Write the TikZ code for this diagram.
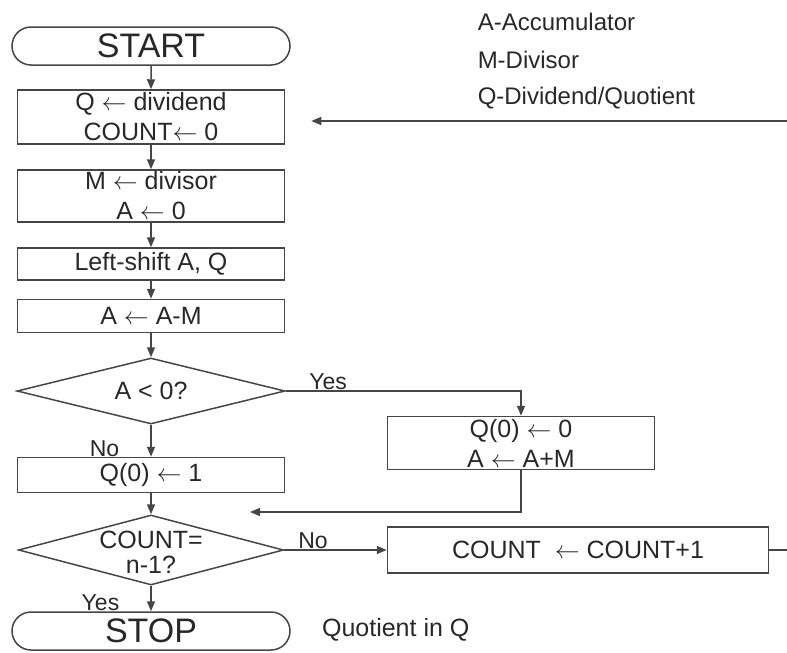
\documentclass[tikz,border=0pt]{standalone}
\usepackage{fontspec}
\setmainfont{Liberation Sans}
\usepackage{tikz}
\usetikzlibrary{shapes.geometric, shapes.misc, arrows, arrows.meta}
\usepackage{xcolor}

\definecolor{edgegray}{RGB}{70,70,70}
\definecolor{inkgray}{RGB}{40,40,40}
\newcommand{\larr}{$\leftarrow$}

\tikzset{
  boxtext/.style={font=\fontsize{25}{30}\selectfont, text=inkgray},
  terminal/.style={rounded rectangle, draw, minimum width=278pt, minimum height=38pt, inner sep=0pt, font=\fontsize{34}{34}\selectfont, text=inkgray},
  process/.style={rectangle, draw, minimum width=267pt, inner sep=0pt, align=center, boxtext},
  decision/.style={diamond, draw, aspect=4, inner sep=0pt, minimum width=268pt, minimum height=66pt, boxtext},
  flowlabel/.style={font=\fontsize{23}{23}\selectfont, text=inkgray, inner sep=1pt},
  legend/.style={anchor=west, inner sep=0pt, font=\fontsize{24}{24}\selectfont, text=inkgray}
}

\begin{document}
\begin{tikzpicture}[->,>={Triangle[length=10pt,width=8pt]},line width=1.5pt,edgegray,x=1pt,y=1pt,node distance=70pt]
  \useasboundingbox (0,0) rectangle (787,-653);

  % main column
  \node[terminal] (start) at (151,-46) {START};
  \node[process, minimum height=54pt] (init) [below of=start, node distance=71pt] {Q \larr\ dividend\\COUNT\larr\ 0};
  \node[process, minimum height=52pt] (load) [below of=init, node distance=79pt] {M \larr\ divisor\\A \larr\ 0};
  \node[process, minimum height=32pt] (shift) [below of=load, node distance=68pt] {Left-shift A, Q};
  \node[process, minimum height=33pt] (sub) [below of=shift, node distance=52pt] {A \larr\ A-M};
  \node[decision] (test) [below of=sub, node distance=75pt] {A < 0?};
  \node[process, minimum height=35pt] (setone) [below of=test, node distance=84pt] {Q(0) \larr\ 1};
  \node[decision, minimum height=70pt, minimum width=265pt] (check) [below of=setone, node distance=75pt] {\raisebox{-8pt}[0pt][0pt]{\parbox[c]{120pt}{\centering\baselineskip=25pt COUNT=\\n-1?}}};
  \node[terminal] (stop) [below of=check, node distance=81pt] {STOP};
  \node[boxtext, anchor=west] (result) at (318,-630) {Quotient in Q};

  % side branch
  \node[process, minimum height=53pt] (restore) at (521,-443) {Q(0) \larr\ 0\\A \larr\ A+M};
  \node[process, minimum width=381pt, minimum height=46pt] (inc) [right of=check, node distance=427pt] {COUNT\ \ \larr\ COUNT+1};

  % legend
  \node[legend] (accum) at (477,-22) {A-Accumulator};
  \node[legend] (divisor) at (477,-60) {M-Divisor};
  \node[legend] (quot) at (477,-98) {Q-Dividend/Quotient};

  % loose ends at the picture edge
  \coordinate (merge) at (250,-512);
  \coordinate (incout) at (787,-550);
  \coordinate (loopin) at (787,-121);

  % flow
  \draw (start) -- (init);
  \draw (init) -- (load);
  \draw (load) -- (shift);
  \draw (shift) -- (sub);
  \draw (sub) -- (test);
  \draw (test) -- node[flowlabel, pos=0.75, left=30pt] {No} (setone);
  \draw (test.east) -| node[flowlabel, pos=0.09, above] {Yes} (restore.north);
  \draw (restore.south) |- (merge);
  \draw (setone) -- (check);
  \draw (check.east) -- node[flowlabel, pos=0.28, above] {No} (inc.west);
  \draw (check) -- node[flowlabel, pos=0.68, left=30pt] {Yes} (stop);
  \draw[-] (inc.east) -- (incout);
  \draw[shorten >=26pt] (loopin) -- (loopin -| init.east);
\end{tikzpicture}
\end{document}
